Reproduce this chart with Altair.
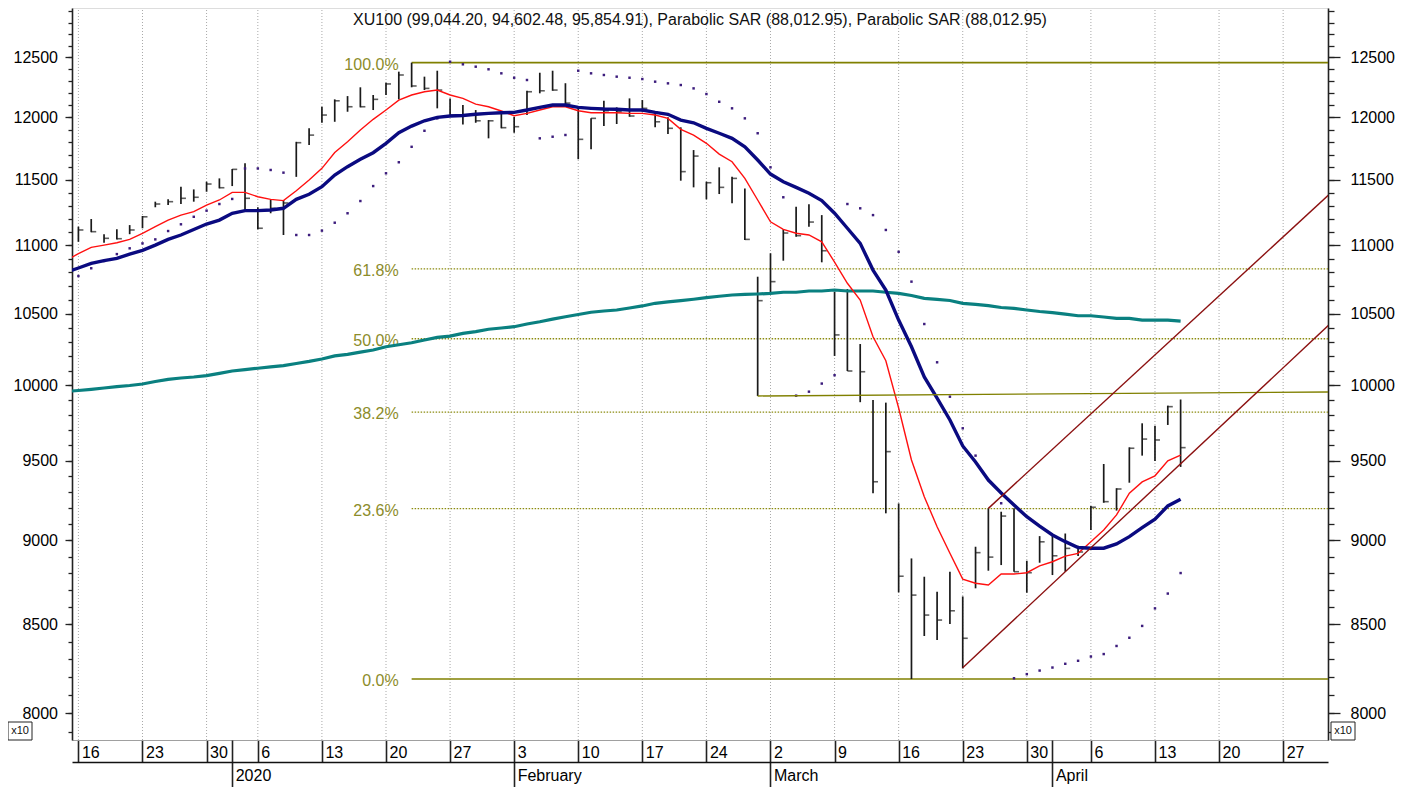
import json
import altair as alt
import pandas as pd

TITLE = ("XU100 (99,044.20, 94,602.48, 95,854.91), Parabolic SAR (88,012.95), "
         "Parabolic SAR (88,012.95)")
FONT = "Liberation Sans"

# ---------------- trading calendar (weekends and holidays skipped) ----------------
holidays = ["2020-01-01"]
calendar = [d.strftime("%Y-%m-%d") for d in pd.bdate_range("2019-12-13", "2020-05-01")]
calendar = [d for d in calendar if d not in holidays]
pos = {d: i for i, d in enumerate(calendar)}

bar_first, bar_last = "2019-12-16", "2020-04-15"
ma_first = "2019-12-13"
axis_last = "2020-04-30"

# ---------------- HLC bars (index points / 10) ----------------
high = [11140, 11198, 11083, 11120, 11152, 11221, 11331, 11349, 11447, 11426,
        11486, 11512, 11586, 11631, 11288, 11344, 11344, 11802, 11911, 12087,
        12148, 12175, 12248, 12184, 12287, 12379, 12455, 12337, 12387, 12156,
        12101, 12060, 11978, 12038, 12005, 12219, 12370, 12387, 12282, 12093,
        11992, 12136, 12082, 12156, 12142, 12038, 12000, 11919, 11736, 11486,
        11599, 11524, 11434, 10767, 10940, 11120, 11292, 11311, 11228, 10658,
        10677, 10285, 9901, 9883, 9228, 8889, 8779, 8690, 8809, 8662,
        8960, 9197, 9176, 9197, 8875, 9025, 9037, 9041, 8966, 9212,
        9479, 9324, 9587, 9745, 9729, 9863, 9904]
low = [11026, 11098, 11019, 11044, 11083, 11128, 11288, 11305, 11313, 11331,
       11408, 11434, 11452, 11267, 11120, 11242, 11077, 11524, 11776, 11956,
       11964, 12046, 12082, 12060, 12184, 12148, 12248, 12225, 12074, 12011,
       11941, 11956, 11830, 11911, 11875, 12019, 12198, 12219, 12093, 11663,
       11742, 11929, 11946, 12005, 12046, 11919, 11865, 11494, 11442, 11349,
       11390, 11318, 11039, 9928, 10650, 10885, 11064, 11140, 10873, 10202,
       10098, 9886, 9292, 9166, 8686, 8189, 8432, 8409, 8501, 8248,
       8710, 8815, 8849, 8809, 8684, 8863, 8789, 8809, 8903, 9063,
       9232, 9183, 9359, 9533, 9499, 9734, 9460]
close = [11115, 11102, 11052, 11049, 11115, 11215, 11313, 11331, 11357, 11365,
         11468, 11439, 11583, 11357, 11128, 11280, 11321, 11795, 11856, 12019,
         12136, 12087, 12087, 12148, 12276, 12351, 12259, 12239, 12225, 12019,
         12019, 11972, 11972, 11916, 11924, 12211, 12219, 12225, 12117, 11822,
         11992, 12054, 12046, 12011, 12074, 11964, 11911, 11565, 11688, 11478,
         11442, 11512, 11044, 10593, 10731, 11092, 11072, 11175, 10959, 10349,
         10098, 10093, 9365, 9559, 8782, 8670, 8553, 8524, 8578, 8419,
         8924, 8897, 9149, 8809, 8803, 8990, 8905, 8950, 8928, 9204,
         9239, 9319, 9581, 9641, 9635, 9856, 9585]
sar = [10772, 10829, 10883, 10934, 10977, 11014, 11044, 11107, 11158, 11215,
       11262, 11313, 11352, 11590, 11590, 11578, 11557, 11077, 11077, 11110,
       11170, 11242, 11336, 11452, 11552, 11639, 11762, 11891, 11992, 12463,
       12441, 12421, 12399, 12365, 12328, 12309, 11830, 11843, 11857, 12387,
       12365, 12351, 12337, 12328, 12317, 12295, 12281, 12267, 12239, 12192,
       12128, 12074, 11992, 11871, 11599, 11365, 9930, 9957, 10012, 10069,
       11313, 11280, 11228, 11115, 10951, 10731, 10426, 10158, 9923, 9712,
       9533, 9376, 9229, 8193, 8216, 8236, 8253, 8274, 8291, 8315,
       8329, 8375, 8422, 8490, 8592, 8679, 8801]

# ---------------- moving averages (start one session earlier) ----------------
ma_fast = [10884, 10938, 10984, 11001, 11019, 11044, 11090, 11140, 11190, 11228,
           11254, 11305, 11344, 11403, 11403, 11369, 11349, 11339, 11416, 11499,
           11591, 11717, 11803, 11897, 11984, 12060, 12142, 12184, 12211, 12225,
           12184, 12156, 12109, 12087, 12052, 12014, 12033, 12060, 12087, 12087,
           12054, 12038, 12038, 12038, 12033, 12033, 12019, 11992, 11903, 11856,
           11790, 11704, 11643, 11512, 11344, 11177, 11120, 11090, 11077, 11026,
           10875, 10719, 10598, 10336, 10169, 9847, 9505, 9270, 9083, 8920,
           8765, 8740, 8730, 8795, 8795, 8803, 8844, 8869, 8903, 8920,
           8990, 9063, 9156, 9292, 9364, 9403, 9499, 9537]
ma_mid = [10798, 10831, 10865, 10886, 10902, 10934, 10962, 11001, 11044, 11077,
          11119, 11160, 11190, 11242, 11262, 11262, 11267, 11280, 11349, 11388,
          11447, 11538, 11604, 11662, 11715, 11790, 11875, 11929, 11972, 12000,
          12011, 12015, 12025, 12033, 12038, 12041, 12060, 12082, 12101, 12101,
          12082, 12074, 12068, 12066, 12060, 12060, 12041, 12025, 11978, 11956,
          11911, 11871, 11830, 11762, 11657, 11546, 11486, 11442, 11396, 11339,
          11242, 11128, 11014, 10816, 10670, 10454, 10266, 10057, 9914, 9767,
          9596, 9492, 9376, 9294, 9218, 9145, 9087, 9032, 8991, 8955,
          8951, 8951, 8977, 9022, 9077, 9130, 9212, 9254]
ma_long = [9958, 9965, 9973, 9982, 9991, 9999, 10009, 10026, 10041, 10050,
           10057, 10066, 10082, 10098, 10108, 10117, 10126, 10135, 10150, 10164,
           10181, 10202, 10213, 10229, 10243, 10266, 10280, 10294, 10313, 10332,
           10341, 10360, 10372, 10389, 10398, 10407, 10426, 10442, 10461, 10478,
           10494, 10510, 10519, 10526, 10540, 10555, 10574, 10584, 10593, 10603,
           10615, 10625, 10634, 10638, 10641, 10646, 10654, 10654, 10663, 10663,
           10670, 10663, 10663, 10663, 10654, 10646, 10630, 10610, 10602, 10594,
           10574, 10566, 10557, 10544, 10537, 10526, 10515, 10507, 10497, 10485,
           10485, 10476, 10466, 10466, 10454, 10454, 10454, 10447]

# ---------------- Fibonacci retracement ----------------
fib_labels = ["100.0%", "61.8%", "50.0%", "38.2%", "23.6%", "0.0%"]
fib_values = [12455, 10825, 10322, 9819, 9196, 8189]
fib_solid = [True, False, False, False, False, True]
fib_start, fib_end = "2020-01-22", "2020-05-01"

# ---------------- drawn trend lines ----------------
trend_start = ["2020-02-28", "2020-03-23", "2020-03-25"]
trend_start_val = [9928, 8252, 9197]
trend_end = ["2020-05-01", "2020-05-01", "2020-05-01"]
trend_end_val = [9955, 10456, 11424]
trend_color = ["#808000", "#8b1010", "#8b1010"]

# ---------------- frames ----------------
bar_dates = calendar[pos[bar_first]: pos[bar_last] + 1]
ma_dates = calendar[pos[ma_first]: pos[bar_last] + 1]
bars = pd.DataFrame({"pos": [pos[d] for d in bar_dates], "high": high, "low": low,
                     "close": close, "sar": sar})
mas = pd.DataFrame({"pos": [pos[d] for d in ma_dates], "fast": ma_fast,
                    "mid": ma_mid, "long": ma_long})
fib = pd.DataFrame({"x1": pos[fib_start], "x2": pos[fib_end], "v": fib_values,
                    "label": fib_labels, "solid": fib_solid})
trend = pd.DataFrame({"x1": [pos[d] for d in trend_start], "x2": [pos[d] for d in trend_end],
                      "v1": trend_start_val, "v2": trend_end_val, "c": trend_color})

x_min = pos[bar_first] - 0.5
x_max = pos[axis_last] + 0.5
y_min, y_max = 7856, 12927
xs = alt.Scale(domain=[x_min, x_max], nice=False, zero=False)
ys = alt.Scale(type="log", domain=[y_min, y_max], nice=False)

W, H = 1256, 732

# ---------------- axis tick values ----------------
mondays = [d for d in calendar if pd.Timestamp(d).weekday() == 0 and x_min <= pos[d] <= x_max]
week_vals = [pos[d] for d in mondays]
week_lbls = [str(pd.Timestamp(d).day) for d in mondays]
month_days = []
for d in calendar:
    if x_min <= pos[d] <= x_max:
        if not month_days or pd.Timestamp(d).month != pd.Timestamp(month_days[-1]).month:
            month_days.append(d)
month_days = [d for d in month_days if pd.Timestamp(d).month != 12]
month_vals = [pos[d] for d in month_days]
month_lbls = [str(pd.Timestamp(d).year) if pd.Timestamp(d).month == 1
              else pd.Timestamp(d).month_name() for d in month_days]
extra_vals = [v for v in month_vals if v not in week_vals]

wv, wl = json.dumps(week_vals), json.dumps(week_lbls)
mv, ml = json.dumps(month_vals), json.dumps(month_lbls)
week_expr = f"indexof({wv}, datum.value) >= 0 ? {wl}[indexof({wv}, datum.value)] : ''"
month_expr = f"indexof({mv}, datum.value) >= 0 ? {ml}[indexof({mv}, datum.value)] : ''"

y_all = list(range(7900, 13000, 100))
y_major = list(range(8000, 13000, 500))
y_expr = "datum.value % 500 === 0 ? '' + datum.value : ''"

week_axis = alt.Axis(
    orient="bottom", values=week_vals, labelExpr=week_expr, title=None, grid=False,
    domain=True, domainColor="#a0a0a0", domainWidth=1.2,
    ticks=True, tickSize=22, tickColor="#222222", tickWidth=1.6,
    labelAlign="left", labelBaseline="middle", labelPadding=-10, labelOffset=3,
    labelFontSize=16, labelColor="black", labelFont=FONT, labelOverlap=False,
    labelFlush=False, labelBound=False)
extra_axis = alt.Axis(
    orient="bottom", values=extra_vals, labels=False, title=None, grid=False,
    domain=False, ticks=True, tickSize=22, tickColor="#222222", tickWidth=1.6)
month_axis = alt.Axis(
    orient="bottom", offset=22, values=month_vals, labelExpr=month_expr, title=None,
    grid=False, domain=True, domainColor="#111111", domainWidth=1.5,
    ticks=True, tickSize=25, tickColor="#222222", tickWidth=1.6,
    labelAlign="left", labelBaseline="middle", labelPadding=-12, labelOffset=3,
    labelFontSize=16, labelColor="black", labelFont=FONT, labelOverlap=False,
    labelFlush=False, labelBound=False)
left_axis = alt.Axis(
    orient="left", values=y_all, labelExpr=y_expr, title=None, grid=False,
    domain=True, domainColor="#222222", domainWidth=1.6,
    tickSize=4, tickColor="#222222", tickWidth=1.3, labelPadding=10.5,
    labelFontSize=16, labelColor="black", labelFont=FONT, labelOverlap=False,
    labelFlush=False, labelBound=False)
right_axis = alt.Axis(
    orient="right", values=y_all, labelExpr=y_expr, title=None, grid=False,
    domain=True, domainColor="#222222", domainWidth=1.6,
    tickSize=6, tickColor="#222222", tickWidth=1.3, labelPadding=16,
    labelFontSize=16, labelColor="black", labelFont=FONT, labelOverlap=False,
    labelFlush=False, labelBound=False)
left_major = alt.Axis(orient="left", values=y_major, labels=False, domain=False, grid=False,
                      title=None, tickSize=7, tickColor="#222222", tickWidth=1.3)
right_major = alt.Axis(orient="right", values=y_major, labels=False, domain=False, grid=False,
                       title=None, tickSize=12, tickColor="#222222", tickWidth=1.3)

anchor = pd.DataFrame({"pos": [pos[bar_first]], "v": [9000]})


def axis_layer(xaxis, yaxis):
    return alt.Chart(anchor).mark_point(opacity=0).encode(
        x=alt.X("pos:Q", scale=xs, axis=xaxis),
        y=alt.Y("v:Q", scale=ys, axis=yaxis))


def X(f="pos"):
    return alt.X(f"{f}:Q", scale=xs, axis=None)


def Y(f):
    return alt.Y(f"{f}:Q", scale=ys, axis=None)


OLIVE = "#808000"
FIBTXT = "#8c8c2a"

grid_df = pd.DataFrame({"pos": week_vals, "lo": y_min, "hi": y_max})
grid = alt.Chart(grid_df).mark_rule(
    color="#a9a9a9", strokeWidth=1, strokeDash=[1, 2]).encode(x=X(), y=Y("lo"), y2="hi:Q")

fib_dot = alt.Chart(fib).transform_filter("!datum.solid").mark_rule(
    color="#8c8c10", strokeWidth=1.3, strokeDash=[1.5, 1.5], clip=True).encode(
    x=X("x1"), x2="x2:Q", y=Y("v"))
fib_sol = alt.Chart(fib).transform_filter("datum.solid").mark_rule(
    color=OLIVE, strokeWidth=1.6, clip=True).encode(x=X("x1"), x2="x2:Q", y=Y("v"))
fib_txt = alt.Chart(fib).mark_text(
    align="right", baseline="middle", dx=-13, dy=2, fontSize=16, font=FONT,
    color=FIBTXT).encode(x=X("x1"), y=Y("v"), text="label:N")

trend_lines = alt.Chart(trend).mark_rule(strokeWidth=1.4, clip=True).encode(
    x=X("x1"), x2="x2:Q", y=Y("v1"), y2="v2:Q", color=alt.Color("c:N", scale=None))

hl = alt.Chart(bars).mark_rule(color="#1a1a1a", strokeWidth=1.7).encode(
    x=X(), y=Y("low"), y2="high:Q")
cl = alt.Chart(bars).mark_tick(color="#1a1a1a", orient="horizontal", size=5,
                               thickness=1.6, xOffset=2.5).encode(x=X(), y=Y("close"))
sar_pts = alt.Chart(bars).mark_square(color="#3c1c7c", size=6, opacity=1).encode(
    x=X(), y=Y("sar"))

teal = alt.Chart(mas).mark_line(color="#0a8080", strokeWidth=3.2, clip=True).encode(
    x=X(), y=Y("long"))
red = alt.Chart(mas).mark_line(color="#ff1010", strokeWidth=1.4, clip=True).encode(
    x=X(), y=Y("fast"))
navy = alt.Chart(mas).mark_line(color="#0a0a80", strokeWidth=3.4, clip=True).encode(
    x=X(), y=Y("mid"))

title = alt.Chart(pd.DataFrame({"t": [TITLE]})).mark_text(
    fontSize=16, font=FONT, color="#111111", align="center", baseline="middle").encode(
    x=alt.value(W / 2), y=alt.value(12), text="t:N")

box_df = pd.DataFrame({"t": ["x10"]})
boxes = []
for bx in (-64, W + 3):
    boxes.append(alt.Chart(box_df).mark_rect(fill="white", stroke="#222222", strokeWidth=1).encode(
        x=alt.value(bx), x2=alt.value(bx + 24), y=alt.value(H - 18), y2=alt.value(H)))
    boxes.append(alt.Chart(box_df).mark_text(fontSize=11, font=FONT, color="#111111").encode(
        x=alt.value(bx + 12), y=alt.value(H - 9), text="t:N"))

main = alt.layer(grid, fib_dot, fib_sol, fib_txt, hl, cl,
                 sar_pts, teal, red, navy, trend_lines, title, *boxes)

chart = alt.layer(
    axis_layer(week_axis, left_axis),
    main,
    axis_layer(month_axis, right_axis),
    axis_layer(extra_axis, left_major),
    axis_layer(None, right_major),
).resolve_scale(x="independent", y="independent").properties(
    width=W, height=H,
    padding={"left": 64, "top": 0, "right": 70, "bottom": 47},
    autosize=alt.AutoSizeParams(type="none"),
).configure_view(stroke=None).configure(font=FONT)

chart.save("out.html", embed_options={"renderer": "svg", "actions": False})
